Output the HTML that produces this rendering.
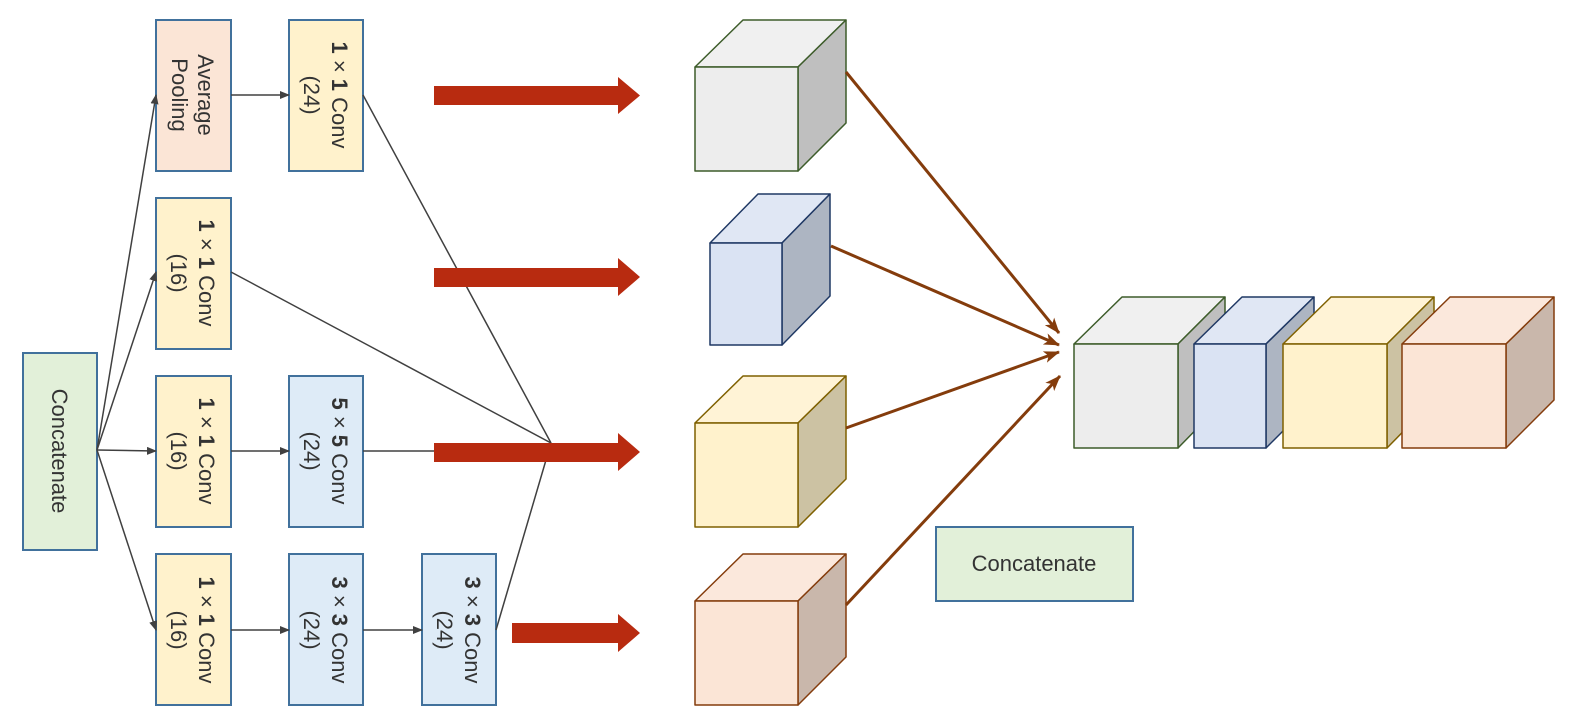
<!DOCTYPE html>
<html><head><meta charset="utf-8"><style>
html,body{margin:0;padding:0;background:#fff;}
svg{display:block;}
text{font-family:"Liberation Sans",sans-serif;fill:#333;}
</style></head><body>
<svg width="1589" height="717" viewBox="0 0 1589 717" xmlns="http://www.w3.org/2000/svg">
<defs>
<marker id="ah" markerWidth="10" markerHeight="8" refX="9" refY="4" orient="auto" markerUnits="userSpaceOnUse"><path d="M0,0 L10,4 L0,8 z" fill="#404040"/></marker>
<marker id="bh" markerWidth="16" markerHeight="12" refX="15" refY="6" orient="auto" markerUnits="userSpaceOnUse"><path d="M0,0 L16,6 L0,12 L4,6 z" fill="#843c0c"/></marker>
</defs>
<g stroke="#41719c" stroke-width="2">
<rect x="23" y="353" width="74" height="197" fill="#e2f0d9"/>
<rect x="156" y="20" width="75" height="151" fill="#fbe5d6"/>
<rect x="289" y="20" width="74" height="151" fill="#fff2cc"/>
<rect x="156" y="198" width="75" height="151" fill="#fff2cc"/>
<rect x="156" y="376" width="75" height="151" fill="#fff2cc"/>
<rect x="289" y="376" width="74" height="151" fill="#deebf7"/>
<rect x="156" y="554" width="75" height="151" fill="#fff2cc"/>
<rect x="289" y="554" width="74" height="151" fill="#deebf7"/>
<rect x="422" y="554" width="74" height="151" fill="#deebf7"/>
<rect x="936" y="527" width="197" height="74" fill="#e2f0d9"/>
</g>
<g font-size="22">
<text transform="rotate(90 60 451)" x="60" y="459" text-anchor="middle">Concatenate</text>
<g transform="rotate(90 193 95)"><text x="193" y="90" text-anchor="middle">Average</text><text x="193" y="116" text-anchor="middle">Pooling</text></g>
<g transform="rotate(90 326 95)"><text x="326" y="89" text-anchor="middle"><tspan font-weight="bold">1</tspan> × <tspan font-weight="bold">1</tspan> Conv</text><text x="326" y="117" text-anchor="middle">(24)</text></g>
<g transform="rotate(90 193 273)"><text x="193" y="267" text-anchor="middle"><tspan font-weight="bold">1</tspan> × <tspan font-weight="bold">1</tspan> Conv</text><text x="193" y="295" text-anchor="middle">(16)</text></g>
<g transform="rotate(90 193 451)"><text x="193" y="445" text-anchor="middle"><tspan font-weight="bold">1</tspan> × <tspan font-weight="bold">1</tspan> Conv</text><text x="193" y="473" text-anchor="middle">(16)</text></g>
<g transform="rotate(90 326 451)"><text x="326" y="445" text-anchor="middle"><tspan font-weight="bold">5</tspan> × <tspan font-weight="bold">5</tspan> Conv</text><text x="326" y="473" text-anchor="middle">(24)</text></g>
<g transform="rotate(90 193 630)"><text x="193" y="624" text-anchor="middle"><tspan font-weight="bold">1</tspan> × <tspan font-weight="bold">1</tspan> Conv</text><text x="193" y="652" text-anchor="middle">(16)</text></g>
<g transform="rotate(90 326 630)"><text x="326" y="624" text-anchor="middle"><tspan font-weight="bold">3</tspan> × <tspan font-weight="bold">3</tspan> Conv</text><text x="326" y="652" text-anchor="middle">(24)</text></g>
<g transform="rotate(90 459 630)"><text x="459" y="624" text-anchor="middle"><tspan font-weight="bold">3</tspan> × <tspan font-weight="bold">3</tspan> Conv</text><text x="459" y="652" text-anchor="middle">(24)</text></g>
<text x="1034" y="571" text-anchor="middle">Concatenate</text>
</g>
<g stroke="#404040" stroke-width="1.5" fill="none">
<line x1="97" y1="450" x2="156" y2="95" marker-end="url(#ah)"/>
<line x1="97" y1="450" x2="156" y2="272" marker-end="url(#ah)"/>
<line x1="97" y1="450" x2="156" y2="451" marker-end="url(#ah)"/>
<line x1="97" y1="450" x2="156" y2="630" marker-end="url(#ah)"/>
<line x1="231" y1="95" x2="289" y2="95" marker-end="url(#ah)"/>
<line x1="231" y1="451" x2="289" y2="451" marker-end="url(#ah)"/>
<line x1="231" y1="630" x2="289" y2="630" marker-end="url(#ah)"/>
<line x1="363" y1="630" x2="422" y2="630" marker-end="url(#ah)"/>
<line x1="363" y1="95" x2="551" y2="443"/>
<line x1="231" y1="272" x2="551" y2="443"/>
<line x1="363" y1="451" x2="551" y2="451"/>
<line x1="496" y1="630" x2="551" y2="443" marker-end="url(#ah)"/>
</g>
<g fill="#b82b10">
<path d="M434,86 H618 V77 L640,95.5 L618,114 V105 H434 Z"/>
<path d="M434,268 H618 V258 L640,277 L618,296 V287 H434 Z"/>
<path d="M434,443 H618 V433 L640,452 L618,471 V462 H434 Z"/>
<path d="M512,623 H618 V614 L640,633 L618,652 V643 H512 Z"/>
</g>
<g stroke-width="1.5" stroke-linejoin="round">
<!-- left cubes -->
<g stroke="#3d5c2a"><path d="M695,67 L743,20 H846 L798,67 Z" fill="#f0f0f0"/><path d="M798,67 L846,20 V123 L798,171 Z" fill="#bfbfbf"/><rect x="695" y="67" width="103" height="104" fill="#ededed"/></g>
<g stroke="#1f3864"><path d="M710,243 L758,194 H830 L782,243 Z" fill="#e0e7f4"/><path d="M782,243 L830,194 V296 L782,345 Z" fill="#adb5c2"/><rect x="710" y="243" width="72" height="102" fill="#dae3f3"/></g>
<g stroke="#7f6000"><path d="M695,423 L743,376 H846 L798,423 Z" fill="#fff3d6"/><path d="M798,423 L846,376 V479 L798,527 Z" fill="#ccc2a3"/><rect x="695" y="423" width="103" height="104" fill="#fff2cc"/></g>
<g stroke="#843c0c"><path d="M695,601 L743,554 H846 L798,601 Z" fill="#fbe8dc"/><path d="M798,601 L846,554 V657 L798,705 Z" fill="#c9b7ab"/><rect x="695" y="601" width="103" height="104" fill="#fbe5d6"/></g>
<!-- right cubes -->
<g stroke="#3d5c2a"><path d="M1074,344 L1122,297 H1225 L1178,344 Z" fill="#f0f0f0"/><path d="M1178,344 L1225,297 V400 L1178,448 Z" fill="#bfbfbf"/><rect x="1074" y="344" width="104" height="104" fill="#ededed"/></g>
<g stroke="#1f3864"><path d="M1194,344 L1242,297 H1314 L1266,344 Z" fill="#e0e7f4"/><path d="M1266,344 L1314,297 V400 L1266,448 Z" fill="#adb5c2"/><rect x="1194" y="344" width="72" height="104" fill="#dae3f3"/></g>
<g stroke="#7f6000"><path d="M1283,344 L1331,297 H1434 L1387,344 Z" fill="#fff3d6"/><path d="M1387,344 L1434,297 V400 L1387,448 Z" fill="#ccc2a3"/><rect x="1283" y="344" width="104" height="104" fill="#fff2cc"/></g>
<g stroke="#843c0c"><path d="M1402,344 L1450,297 H1554 L1506,344 Z" fill="#fbe8dc"/><path d="M1506,344 L1554,297 V400 L1506,448 Z" fill="#c9b7ab"/><rect x="1402" y="344" width="104" height="104" fill="#fbe5d6"/></g>
</g>
<g stroke="#843c0c" stroke-width="3" fill="none">
<line x1="846" y1="72" x2="1059" y2="333" marker-end="url(#bh)"/>
<line x1="831" y1="246" x2="1059" y2="345" marker-end="url(#bh)"/>
<line x1="846" y1="428" x2="1059" y2="352" marker-end="url(#bh)"/>
<line x1="846" y1="605" x2="1060" y2="376" marker-end="url(#bh)"/>
</g>
</svg>
</body></html>
